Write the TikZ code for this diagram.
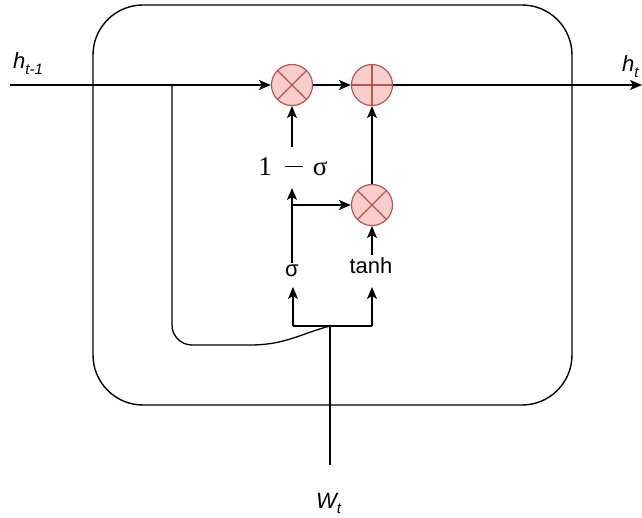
\documentclass[tikz,border=0pt]{standalone}
\usepackage[no-math]{fontspec}
\setmainfont{Liberation Sans}
\newfontfamily\opfont{Liberation Serif}
\usetikzlibrary{arrows.meta}
\definecolor{opfill}{HTML}{F8CECC}
\definecolor{opline}{HTML}{B85450}
\tikzset{
  op/.style={circle, draw=opline, fill=opfill, line width=1.2pt, minimum size=41pt, inner sep=0pt},
  multop/.style={op, path picture={
      \draw[opline, line width=1.2pt] (path picture bounding box.north west) -- (path picture bounding box.south east);
      \draw[opline, line width=1.2pt] (path picture bounding box.north east) -- (path picture bounding box.south west);}},
  plusop/.style={op, path picture={
      \draw[opline, line width=1.2pt] (path picture bounding box.north) -- (path picture bounding box.south);
      \draw[opline, line width=1.2pt] (path picture bounding box.west) -- (path picture bounding box.east);}},
  wire/.style={line width=1.3pt, draw=black},
  conn/.style={wire, -{Stealth[length=12pt,width=10pt,inset=3pt]}},
  lbl/.style={inner sep=0pt, font=\fontsize{22}{26}\selectfont},
}
\begin{document}
\begin{tikzpicture}[x=1pt,y=-1pt]
\useasboundingbox (0,0) rectangle (642,518);
% cell box
\node[draw, line width=1.4pt, rounded corners=50pt, minimum width=479pt, minimum height=400pt, inner sep=0pt] (cell) at (332.5,205) {};
% operators
\node[multop] (m1) at (292,85) {};
\node[plusop] (p1) at (372,85) {};
\node[multop] (m2) at (372,205) {};
% labels
\node[lbl, anchor=base west] (hin) at (13,69) {\itshape h\raisebox{-6pt}{\fontsize{15}{18}\selectfont t-1}};
\node[lbl, anchor=base west] (hout) at (622,72) {\itshape h\raisebox{-6pt}{\fontsize{15}{18}\selectfont t}};
\node[lbl, anchor=base west] (wt) at (316,508) {\itshape W\raisebox{-5pt}{\fontsize{15}{18}\selectfont t}};
\node[lbl, anchor=base] (sig) at (292,277) {σ};
\node[lbl, anchor=base] (th) at (371,274) {tanh};
\node[inner sep=0pt, anchor=base] (om) at (293,176) {\opfont\fontsize{27}{30}\selectfont 1\hspace{13pt}\rule[8.5pt]{18pt}{1.3pt}\hspace{10pt}σ};
% coordinates
\coordinate (start) at (10,85);
\coordinate (end) at (642,85);
\coordinate (split) at (172,85);
\coordinate (jL) at (293,326);
\coordinate (jR) at (372,326);
\coordinate (jC) at (330,326);
\coordinate (wbot) at (330,465);
\coordinate (sigIn) at (293,287);
\coordinate (thIn) at (372,287);
\coordinate (sigOut) at (292,263);
\coordinate (omIn) at (292,188);
\coordinate (omOut) at (292,147);
\coordinate (sb) at (292,205);
\coordinate (thOut) at (372,255);
% connectors
\draw[conn] (start) -- (m1);
\draw[conn] (m1) -- (p1);
\draw[conn] (p1) -- (end);
\draw[wire] (split) -- (172,325) arc[start angle=180, end angle=270, radius=20pt] -- (250,345) .. controls (285,345) and (300,334) .. (jC);
\draw[wire] (jL) -- (jR);
\draw[wire] (jC) -- (wbot);
\draw[conn] (jL) -- (sigIn);
\draw[conn] (jR) -- (thIn);
\draw[conn] (sigOut) -- (omIn);
\draw[conn] (sb) -- (m2);
\draw[conn] (thOut) -- (m2);
\draw[conn] (m2) -- (p1);
\draw[conn] (omOut) -- (m1);
\end{tikzpicture}
\end{document}
